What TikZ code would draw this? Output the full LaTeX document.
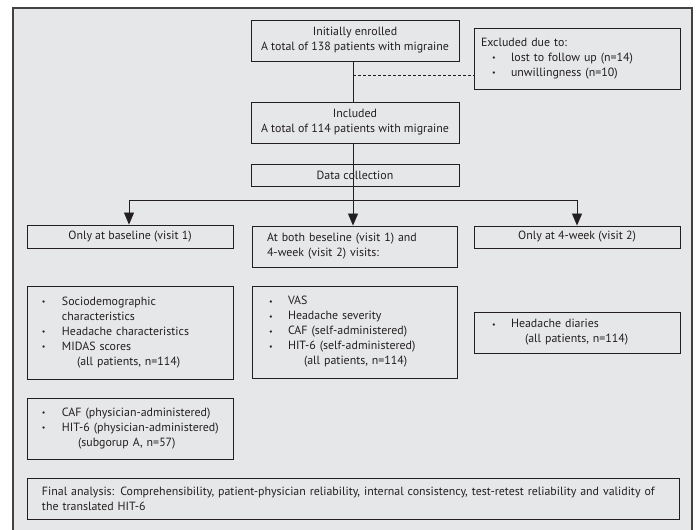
\documentclass[tikz,border=0pt]{standalone}
\usepackage{fontspec}
\setmainfont{PT Sans}
\usetikzlibrary{arrows.meta,calc}
\definecolor{bg}{HTML}{E6E7E8}
\definecolor{ln}{HTML}{231F20}
\newcommand{\bl}[1]{\makebox[#1][l]{\raisebox{0.5bp}{\fontsize{8bp}{8bp}\selectfont •}}}
\begin{document}
\begin{tikzpicture}[x=1bp,y=-1bp,
  box/.style={draw=ln, line width=0.9bp, fill=bg, inner ysep=0pt, text=ln,
    font=\fontsize{11.9bp}{15bp}\selectfont},
  cbox/.style={box, inner xsep=0pt, align=center},
  lbox/.style={box, align=left},
  conn/.style={draw=ln, line width=0.9bp},
  arr/.style={conn, -{Triangle[width=10bp,length=12bp]}}]
\useasboundingbox (0,0) rectangle (696,530);
\fill[white] (0,0) rectangle (696,530);
\draw[fill=bg, draw=ln!85, line width=1.5bp] (13,8) rectangle (692,545);

\node[cbox, minimum width=208bp, minimum height=41bp] (enrolled) at (355,40.5)
  {Initially enrolled\\A total of 138 patients with migraine};
\node[lbox, text width=192bp, inner xsep=7bp, minimum height=61bp] (excluded) at (577,58.5)
  {Excluded due to:\\
   \mbox{\hspace*{11bp}\bl{19bp}lost to follow up (n=14)}\\
   \mbox{\hspace*{11bp}\bl{19bp}unwillingness (n=10)}};
\node[cbox, minimum width=208bp, minimum height=41bp] (included) at (355,122.5)
  {Included\\A total of 114 patients with migraine};
\node[cbox, minimum width=208bp, minimum height=22bp] (data) at (355,175)
  {Data collection};

\node[cbox, minimum width=206bp, minimum height=23bp] (base) at (130,236.5)
  {Only at baseline (visit 1)};
\node[lbox, text width=175bp, inner xsep=15bp, minimum height=41bp] (both) at (354.5,246.5)
  {\mbox{At both beseline (visit 1) and}\\4-week (visit 2) visits:};
\node[cbox, minimum width=206bp, minimum height=22bp] (week) at (577,237)
  {Only at 4-week (visit 2)};

\node[lbox, text width=176bp, inner xsep=15bp, minimum height=93bp] (list1) at (130,332.5)
  {\bl{20bp}Sociodemographic\\
   \hspace*{20bp}characteristics\\
   \mbox{\bl{20bp}Headache characteristics}\\
   \bl{20bp}MIDAS scores\\
   \mbox{\hspace*{35bp}(all patients, n=114)}};
\node[lbox, text width=171bp, inner xsep=17bp, minimum height=92bp] (list2) at (354.5,332)
  {\bl{19bp}VAS\\
   \bl{19bp}Headache severity\\
   \mbox{\bl{19bp}CAF (self-administered)}\\
   \mbox{\bl{19bp}HIT-6 (self-administered)}\\
   \mbox{\hspace*{35bp}(all patients, n=114)}};
\node[lbox, text width=170bp, inner xsep=18bp, minimum height=41bp] (list3) at (577,332.5)
  {\bl{19bp}Headache diaries\\
   \mbox{\hspace*{33bp}(all patients, n=114)}};
\node[lbox, text width=176bp, inner xsep=15bp, minimum height=61bp] (caf) at (130,428.5)
  {\mbox{\bl{20bp}CAF (physician-administered)}\\
   \mbox{\bl{20bp}HIT-6 (physician-administered)}\\
   \mbox{\hspace*{36bp}(subgorup A, n=57)}};
\node[lbox, text width=622bp, inner xsep=15bp, minimum height=41bp] (final) at (353,498.5)
  {\mbox{Final analysis: Comprehensibility, patient-physician reliability, internal consistency, test-retest reliability and validity of}\\the translated HIT-6};

\coordinate (exsplit) at (353,75);
\coordinate (split) at (353,200);

\draw[conn] (enrolled.south -| split) -- (included.north -| split);
\draw[conn, dash pattern=on 3bp off 2bp] (exsplit) -- (excluded.west |- exsplit);
\draw[conn] (included.south -| split) -- (data.south -| split);
\draw[conn] (data.south -| split) -- (split);
\draw[conn] ($(base.north |- split)+(-1,0)$) -- (week.north |- split);
\draw[arr] ($(base.north |- split)+(-1,0)$) -- ($(base.north)+(-1,0)$);
\draw[arr] (split) -- (both.north -| split);
\draw[arr] (week.north |- split) -- (week.north);
\end{tikzpicture}
\end{document}
